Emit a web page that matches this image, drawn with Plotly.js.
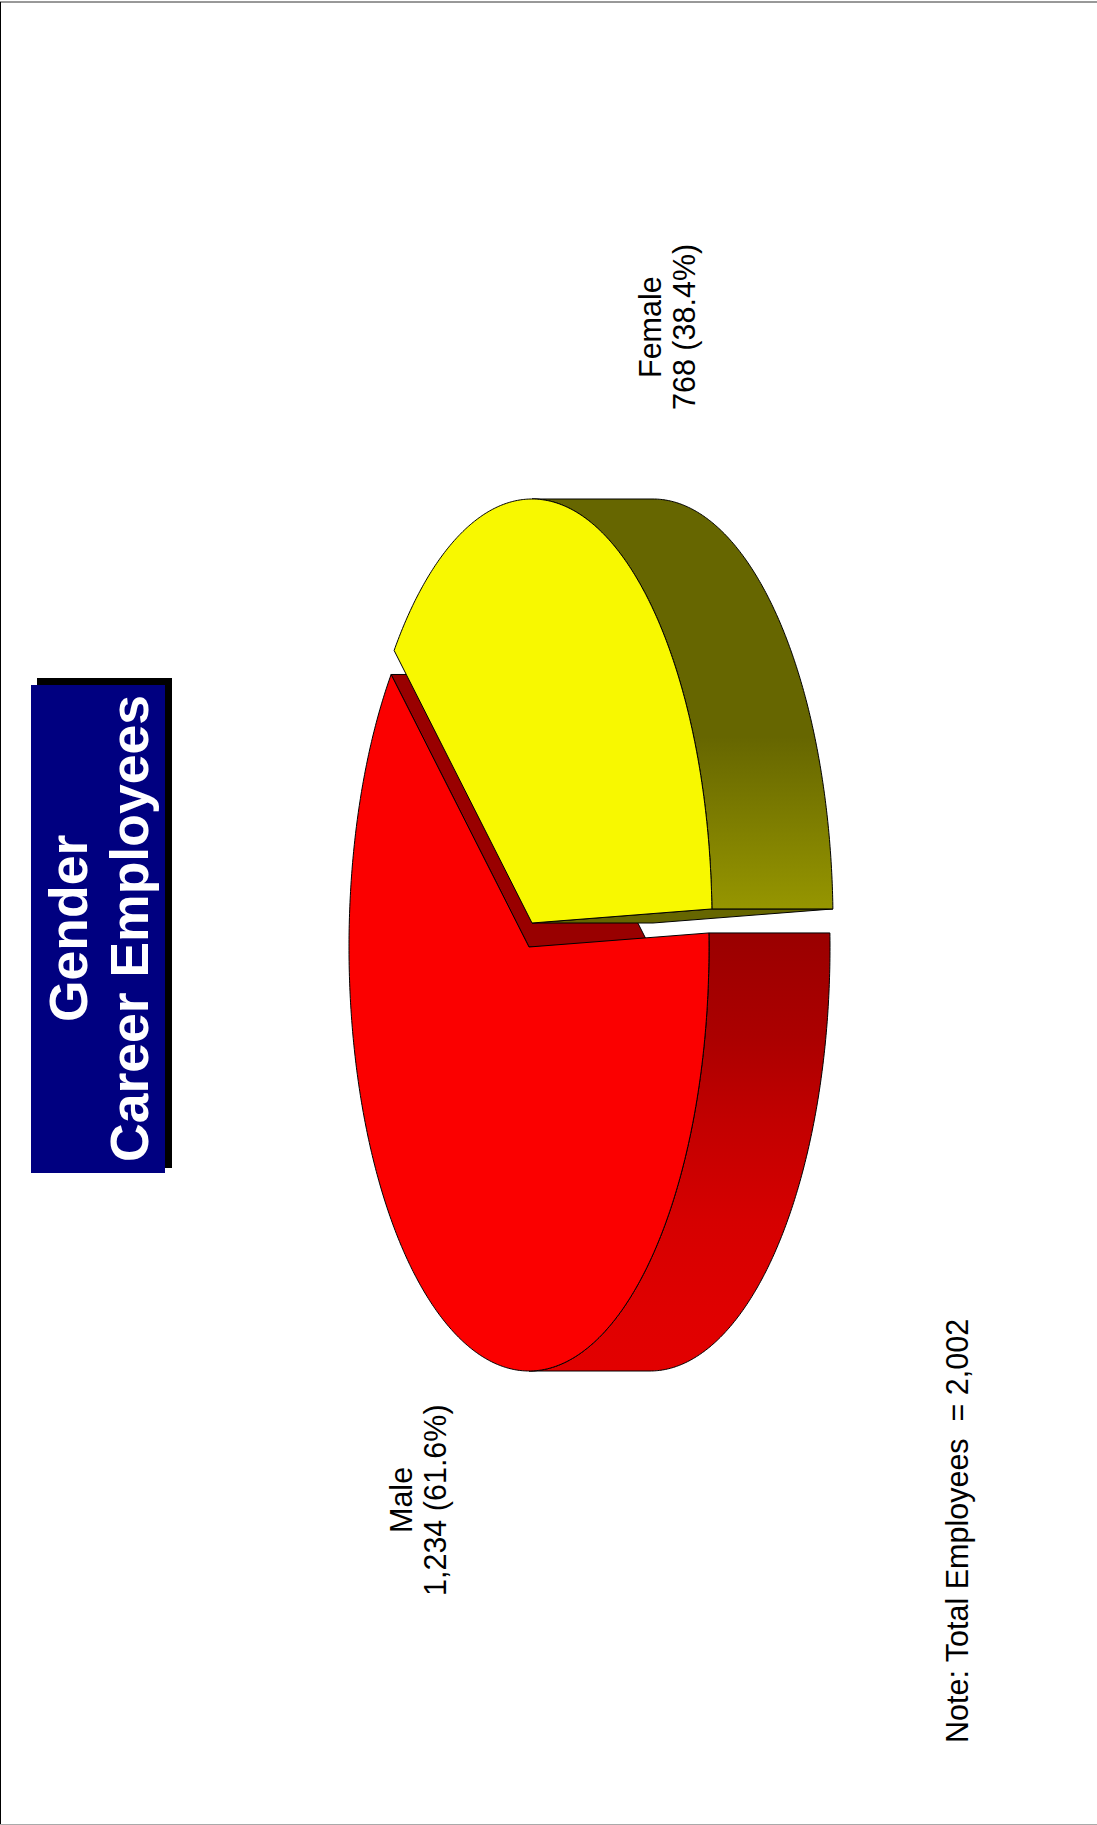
<!DOCTYPE html>
<html>
<head>
<meta charset="utf-8">
<script src="https://cdn.plot.ly/plotly-3.0.1.min.js"></script>
<style>html,body{margin:0;padding:0;background:#fff}</style>
</head>
<body>
<div id="chart" style="width:1097px;height:1825px"></div>
<script>
// Workforce counts
const categories = ['Male', 'Female'];
const employees = [1234, 768];
const titleLines = ['Gender', 'Career Employees'];
const noteText = 'Note: Total Employees\u00a0 = 2,002';

// Page-pixel geometry of the turned 3D pie
const W = 1097, H = 1825;
const RX = 180, RY = 424, DEPTH = 121;
const centers = [[529, 947], [532, 923]];
const startDeg = -1.9;

const topColors = ['#fb0000', '#f8f800'];
const wallColors = ['#990000', '#666600'];
const sideStops = [
  [[0, '#9a0000'], [0.25, '#ac0000'], [0.43, '#c20000'], [0.66, '#d60000'], [0.88, '#e00000'], [1, '#e20000']],
  [[0, '#666600'], [0.58, '#666600'], [1, '#969600']]
];
const sideBounds = [[932, 1370], [498, 910]];
// Centre of each rotated label line: [name x, value x, y]
const labelAnchors = [[401, 435, 1500], [650, 684, 327]];
const titleAnchors = [[68, 929], [129, 929]];

const total = employees.reduce((a, b) => a + b, 0);
const rad = d => d * Math.PI / 180;

// Arc of the ellipse between two parametric angles, sampled every half degree
function arc(c, a0, a1, dx) {
  const n = Math.max(2, Math.ceil(Math.abs(a1 - a0) * 2));
  const xs = [], ys = [];
  for (let i = 0; i <= n; i++) {
    const t = rad(a0 + (a1 - a0) * i / n);
    xs.push(c[0] + RX * Math.cos(t) + dx);
    ys.push(c[1] + RY * Math.sin(t));
  }
  return [xs, ys];
}

function poly(xs, ys, fill, extra) {
  return Object.assign({
    type: 'scatter', mode: 'lines', x: xs, y: ys, fill: 'toself', fillcolor: fill,
    line: {color: '#000', width: 1, simplify: false}, hoverinfo: 'skip', showlegend: false
  }, extra || {});
}

// Slices run clockwise on screen from the start angle, one span per value
const traces = [];
let from = startDeg;
employees.forEach((v, i) => {
  const span = v / total * 360;
  const to = from + span;
  const c = centers[i];

  // Cut wall along the slice's closing edge, pushed out by the pie's depth
  const endX = c[0] + RX * Math.cos(rad(to));
  const endY = c[1] + RY * Math.sin(rad(to));
  traces.push(poly(
    [c[0], endX, endX + DEPTH, c[0] + DEPTH, c[0]],
    [c[1], endY, endY, c[1], c[1]],
    wallColors[i]
  ));

  // Rim: only the part of the arc turned toward the extrusion direction
  const sideFrom = i === 0 ? from : 270;
  const sideTo = i === 0 ? 90 : to;
  const front = arc(c, sideFrom, sideTo, 0);
  const back = arc(c, sideFrom, sideTo, DEPTH);
  const sx = front[0].concat(back[0].slice().reverse(), front[0][0]);
  const sy = front[1].concat(back[1].slice().reverse(), front[1][0]);
  traces.push(poly(sx, sy, sideStops[i][0][1], {
    fillgradient: {type: 'vertical', colorscale: sideStops[i], start: sideBounds[i][0], stop: sideBounds[i][1]}
  }));

  // Top face
  const face = arc(c, from, to, 0);
  traces.push(poly([c[0]].concat(face[0], c[0]), [c[1]].concat(face[1], c[1]), topColors[i]));
  from = to;
});

const labelFont = {family: 'Liberation Sans, Arial, sans-serif', size: 30.5, color: '#000'};
const titleFont = {family: 'Liberation Sans, Arial, sans-serif', size: 53.5, color: '#fff', weight: 700};

function turned(text, x, y, font) {
  return {xref: 'x', yref: 'y', x: x, y: y, text: text, textangle: -90, showarrow: false, font: font};
}

const annotations = [];
categories.forEach((name, i) => {
  const pct = (employees[i] / total * 100).toFixed(1);
  annotations.push(turned(name, labelAnchors[i][0], labelAnchors[i][2], labelFont));
  annotations.push(turned(employees[i].toLocaleString('en-US') + ' (' + pct + '%)', labelAnchors[i][1], labelAnchors[i][2], labelFont));
});
annotations.push(turned(noteText, 957, 1531, labelFont));
titleLines.forEach((line, i) => {
  annotations.push(turned(line, titleAnchors[i][0], titleAnchors[i][1], titleFont));
});

const shapes = [
  {type: 'rect', xref: 'x', yref: 'y', x0: 37, x1: 172, y0: 678, y1: 1168, fillcolor: '#000', line: {width: 0}, layer: 'below'},
  {type: 'rect', xref: 'x', yref: 'y', x0: 31, x1: 165, y0: 685, y1: 1173, fillcolor: '#000080', line: {width: 0}, layer: 'below'},
  {type: 'line', xref: 'x', yref: 'y', x0: 0, x1: W, y0: 2, y1: 2, line: {color: '#333', width: 1}},
  {type: 'line', xref: 'x', yref: 'y', x0: 0.5, x1: 0.5, y0: 2, y1: H, line: {color: '#000', width: 1}},
  {type: 'line', xref: 'x', yref: 'y', x0: 0, x1: W, y0: H - 0.5, y1: H - 0.5, line: {color: '#aaa', width: 1}}
];

const hiddenAxis = {visible: false, fixedrange: true};
Plotly.newPlot('chart', traces, {
  width: W, height: H, margin: {l: 0, r: 0, t: 0, b: 0},
  paper_bgcolor: '#fff', plot_bgcolor: '#fff', showlegend: false,
  xaxis: Object.assign({range: [0, W]}, hiddenAxis),
  yaxis: Object.assign({range: [H, 0]}, hiddenAxis),
  annotations: annotations, shapes: shapes
}, {displayModeBar: false, staticPlot: true});
</script>
</body>
</html>
